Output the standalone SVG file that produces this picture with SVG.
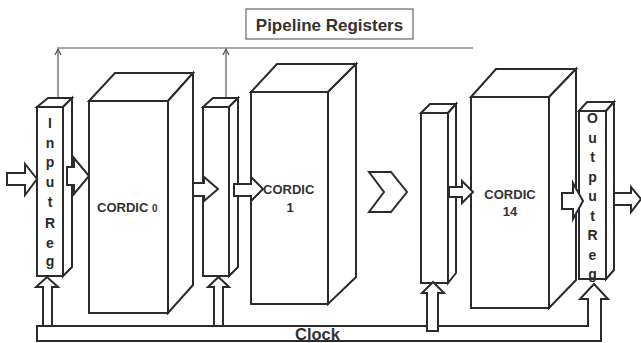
<svg xmlns="http://www.w3.org/2000/svg" width="641" height="343" viewBox="0 0 641 343">
<style>
.box{fill:#fff;stroke:#2b2b2b;stroke-width:2;stroke-linejoin:miter}
.arr{fill:#fff;stroke:#2b2b2b;stroke-width:2;stroke-linejoin:miter}
.thin{fill:none;stroke:#555;stroke-width:1.2}
.lbl{font-family:"Liberation Sans",Arial,sans-serif;font-weight:bold;fill:#333}
.v{font-family:"Liberation Sans",Arial,sans-serif;font-weight:bold;fill:#2b2b2b;font-size:14px;text-anchor:middle}
</style>
<rect width="641" height="343" fill="#fff"/>
<g id="title">
<rect x="246" y="9" width="167" height="30" fill="#fff" stroke="#666" stroke-width="1.2"/>
<text class="lbl" x="329.5" y="31" font-size="17" text-anchor="middle">Pipeline Registers</text>
</g>
<g id="connectors">
<line class="thin" x1="57" y1="48" x2="473" y2="48"/>
<line class="thin" x1="58" y1="98" x2="58" y2="49"/>
<polyline class="thin" points="55,55 58,49 61,55"/>
<line class="thin" x1="226" y1="98" x2="226" y2="49"/>
<polyline class="thin" points="223,55 226,49 229,55"/>
</g>
<g id="inputReg">
<polygon class="box" points="37,107 48,98 72,98 63,107"/>
<polygon class="box" points="63,107 72,98 72,267 63,276"/>
<rect class="box" x="37" y="107" width="26" height="169"/>
<text class="v" x="50" y="128">I</text>
<text class="v" x="50" y="148">n</text>
<text class="v" x="50" y="167">p</text>
<text class="v" x="50" y="187">u</text>
<text class="v" x="50" y="207">t</text>
<text class="v" x="50" y="228">R</text>
<text class="v" x="50" y="248">e</text>
<text class="v" x="50" y="266">g</text>
</g>
<g id="cordic0">
<polygon class="box" points="89,101 115,73 193,73 168,101"/>
<polygon class="box" points="168,101 193,73 193,285 168,313"/>
<rect class="box" x="89" y="101" width="79" height="212"/>
<text class="lbl" x="97" y="212" font-size="13">CORDIC <tspan font-size="10">0</tspan></text>
</g>
<g id="reg2">
<polygon class="box" points="203,107 213,98 238,98 229,107"/>
<polygon class="box" points="229,107 238,98 238,267 229,276"/>
<rect class="box" x="203" y="107" width="26" height="169"/>
</g>
<g id="cordic1">
<polygon class="box" points="251,92 277,64 356,64 328,92"/>
<polygon class="box" points="328,92 356,64 356,277 328,304"/>
<rect class="box" x="251" y="92" width="77" height="212"/>
<text class="lbl" x="263" y="194" font-size="13">CORDIC</text>
<text class="lbl" x="290" y="212" font-size="13" text-anchor="middle">1</text>
</g>
<g id="chevron">
<polygon class="arr" points="369,172 391,172 407,192 391,212 369,212 384,192"/>
</g>
<g id="reg3">
<polygon class="box" points="421,113 430,104 456,104 448,113"/>
<polygon class="box" points="448,113 456,104 456,273 448,283"/>
<rect class="box" x="421" y="113" width="27" height="170"/>
</g>
<g id="cordic14">
<polygon class="box" points="471,97 496,69 576,69 549,97"/>
<polygon class="box" points="549,97 576,69 576,280 549,308"/>
<rect class="box" x="471" y="97" width="78" height="211"/>
<text class="lbl" x="510" y="199" font-size="13" text-anchor="middle">CORDIC</text>
<text class="lbl" x="510" y="216" font-size="13" text-anchor="middle">14</text>
</g>
<g id="outputReg">
<polygon class="box" points="579,111 587,102 614,102 606,111"/>
<polygon class="box" points="606,111 614,102 614,270 606,279"/>
<rect class="box" x="579" y="111" width="27" height="168"/>
<text class="v" x="592.5" y="123">O</text>
<text class="v" x="592.5" y="142.5">u</text>
<text class="v" x="592.5" y="162">t</text>
<text class="v" x="592.5" y="181.5">p</text>
<text class="v" x="592.5" y="201">u</text>
<text class="v" x="592.5" y="220.5">t</text>
<text class="v" x="592.5" y="240">R</text>
<text class="v" x="592.5" y="259.5">e</text>
<text class="v" x="592.5" y="279">g</text>
</g>
<g id="dataArrows">
<polygon class="arr" points="7,173 25,173 25,164 37,179 25,195 25,185 7,185"/>
<polygon class="arr" points="67,167 74,167 74,158 89,176 74,194 74,185 67,185"/>
<polygon class="arr" points="193,183 204,183 204,177 218,189 204,201 204,196 193,196"/>
<polygon class="arr" points="234,184 251,184 251,177 263,189 251,201 251,196 234,196"/>
<polygon class="arr" points="449,187 462,187 462,181 473,192 462,203 462,197 449,197"/>
<polygon class="arr" points="562,193 573,193 573,183 583,201 573,219 573,209 562,209"/>
<polygon class="arr" points="614,193 631,193 631,187 641,199 631,212 631,205 614,205"/>
</g>
<g id="clock">
<polygon class="arr" points="37,326 588,326 588,299 580,299 594,284 608,299 601,299 601,341 37,341"/>
<polygon class="arr" points="43,326 43,287 36,287 47,277 58,287 52,287 52,326"/>
<polygon class="arr" points="214,326 214,287 208,287 218.5,277 229,287 223,287 223,326"/>
<polygon class="arr" points="427,331 427,293 422,293 433,282 444,293 438,293 438,331"/>
<text class="lbl" x="295" y="340" font-size="16.5">Clock</text>
</g>
</svg>
